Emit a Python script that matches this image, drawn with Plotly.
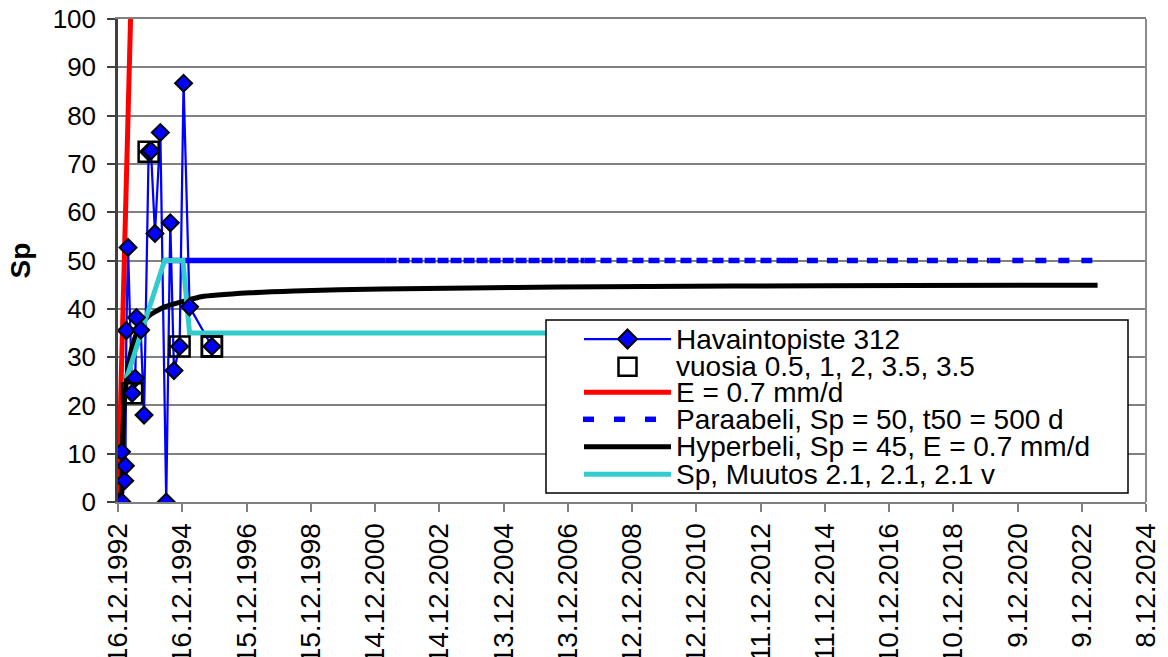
import plotly.graph_objects as go
import pandas as pd

# ---------------- data ----------------
BASE = "1992-12-16"

tick_days = [0, 730, 1460, 2190, 2920, 3650, 4380, 5110, 5840, 6570, 7300, 8030, 8760, 9490, 10220, 10950, 11680]
tick_labels = ["16.12.1992", "16.12.1994", "15.12.1996", "15.12.1998", "14.12.2000", "14.12.2002",
               "13.12.2004", "13.12.2006", "12.12.2008", "12.12.2010", "11.12.2012", "11.12.2014",
               "10.12.2016", "10.12.2018", "9.12.2020", "9.12.2022", "8.12.2024"]

# Havaintopiste 312 (days since 16.12.1992, Sp)
obs_days = [0, 40, 45, 76, 84, 95, 114, 160, 196, 209, 258, 296, 348, 375, 420, 481, 548, 594, 636, 700, 745, 813, 1067]
obs_vals = [0, 10.4, 0, 4.4, 7.5, 35.5, 52.7, 22.5, 25.6, 38.2, 35.6, 18.0, 72.5, 72.7, 55.6, 76.5, 0, 57.8, 27.2, 32.2, 86.7, 40.4, 32.2]

# vuosia 0.5, 1, 2, 3.5, 3.5
sq_days = [160, 348, 700, 1067, 1067]
sq_vals = [22.5, 72.5, 32.2, 32.2, 32.2]

# E = 0.7 mm/d
red_days = [0, 150]
red_vals = [0, 105]

# Paraabeli, Sp = 50, t50 = 500 d
par_days = [529, 3040, 5300, 7600, 9900, 11130]
par_vals = [50, 50, 50, 50, 50, 50]

# Hyperbeli, Sp = 45, E = 0.7 mm/d
hyp_days = [38, 50, 69, 107, 152, 228, 341, 529, 795, 946, 1500, 2000, 3000, 4000, 5000, 7000, 9000, 11130]
hyp_vals = [0, 11.4, 19.7, 26.7, 31.5, 35.6, 38.4, 40.4, 41.8, 42.5, 43.3, 43.7, 44.1, 44.3, 44.5, 44.7, 44.8, 44.9]

# Sp, Muutos 2.1, 2.1, 2.1 v
cy_days = [95, 529, 738, 813, 11130]
cy_vals = [25.5, 50, 50, 35, 35]

legend_labels = ["Havaintopiste 312", "vuosia 0.5, 1, 2, 3.5, 3.5", "E = 0.7 mm/d",
                 "Paraabeli, Sp = 50, t50 = 500 d", "Hyperbeli, Sp = 45, E = 0.7 mm/d",
                 "Sp, Muutos 2.1, 2.1, 2.1 v"]

# ---------------- helpers ----------------
base = pd.Timestamp(BASE)


def to_dates(days):
    return [base + pd.Timedelta(days=d) for d in days]


BLUE = "#0000FF"
RED = "#FF0000"
CYAN = "#33CCCC"
FONT = "Liberation Sans, Arial, sans-serif"

W, H = 1168, 657
ML, MR, MT, MB = 118, 22, 19, 155
PW, PH = W - ML - MR, H - MT - MB


def px(x, y):
    return (x - ML) / PW, (H - MB - y) / PH


fig = go.Figure()

# observation line (under everything)
fig.add_trace(go.Scatter(x=to_dates(obs_days), y=obs_vals, mode="lines",
                         line=dict(color=BLUE, width=2.25), hoverinfo="skip"))
# red line
fig.add_trace(go.Scatter(x=to_dates(red_days), y=red_vals, mode="lines",
                         line=dict(color=RED, width=5)))
# parabola: dense part renders solid, sparse parts dashed with growing gaps
par_styles = ["solid", "11px,2px", "11px,5px", "11px,9px", "11px,12px"]
for i, st in enumerate(par_styles):
    fig.add_trace(go.Scatter(x=to_dates(par_days[i:i + 2]), y=par_vals[i:i + 2], mode="lines",
                             line=dict(color=BLUE, width=5.5, dash=st)))
# hyperbola
fig.add_trace(go.Scatter(x=to_dates(hyp_days), y=hyp_vals, mode="lines",
                         line=dict(color="black", width=5, shape="spline", smoothing=0.6)))
# cyan
fig.add_trace(go.Scatter(x=to_dates(cy_days), y=cy_vals, mode="lines",
                         line=dict(color=CYAN, width=5)))
# observation markers
fig.add_trace(go.Scatter(x=to_dates(obs_days), y=obs_vals, mode="markers",
                         marker=dict(symbol="diamond", size=13, color=BLUE,
                                     line=dict(color="black", width=2))))
# squares
fig.add_trace(go.Scatter(x=to_dates(sq_days), y=sq_vals, mode="markers",
                         marker=dict(symbol="square-open", size=20, color="black",
                                     line=dict(color="black", width=2.5))))

shapes = []
# black line at 30
shapes.append(dict(type="line", xref="paper", x0=0, x1=1, yref="y", y0=30, y1=30,
                   line=dict(color="black", width=1.5), layer="between"))
# right border
shapes.append(dict(type="line", xref="paper", x0=1, x1=1, yref="paper", y0=0, y1=1,
                   line=dict(color="#8C8C8C", width=2), layer="above"))

# ---------------- manual legend ----------------
bx0, by0 = px(546, 320)
bx1, by1 = px(1128, 493)
shapes.append(dict(type="rect", xref="paper", yref="paper", x0=bx0, x1=bx1, y0=by1, y1=by0,
                   line=dict(color="black", width=1.5), fillcolor="white", layer="above"))
rows = [339, 366.7, 392.3, 419.3, 446.7, 474.3]
lx0, lx1, mx = 584, 671, 627.5


def hline(xa, xb, y, color, width):
    a = px(xa, y)
    b = px(xb, y)
    return dict(type="line", xref="paper", yref="paper", x0=a[0], x1=b[0], y0=a[1], y1=b[1],
                line=dict(color=color, width=width), layer="above")


shapes.append(hline(lx0, lx1, rows[0], BLUE, 2.25))
# diamond sample
d = 9.5
pts = [px(mx, rows[0] - d), px(mx + d, rows[0]), px(mx, rows[0] + d), px(mx - d, rows[0])]
path = "M" + " L".join(f"{p[0]:.5f},{p[1]:.5f}" for p in pts) + " Z"
shapes.append(dict(type="path", xref="paper", yref="paper", path=path, fillcolor=BLUE,
                   line=dict(color="black", width=2), layer="above"))
# square sample
s0 = px(mx - 9, rows[1] - 9)
s1 = px(mx + 9, rows[1] + 9)
shapes.append(dict(type="rect", xref="paper", yref="paper", x0=s0[0], x1=s1[0], y0=s1[1], y1=s0[1],
                   line=dict(color="black", width=2.5), fillcolor="rgba(0,0,0,0)", layer="above"))
shapes.append(hline(lx0, lx1, rows[2], RED, 5))
for a in (583, 614, 645):
    shapes.append(hline(a, a + 11, rows[3], BLUE, 5.5))
shapes.append(hline(lx0, lx1, rows[4], "black", 5))
shapes.append(hline(lx0, lx1, rows[5], CYAN, 5))

annotations = []
for r, lab in zip(rows, legend_labels):
    ax, ay = px(675, r)
    annotations.append(dict(xref="paper", yref="paper", x=ax, y=ay, xanchor="left", yanchor="middle",
                            text=lab, showarrow=False, borderpad=0,
                            font=dict(size=28, color="black", family=FONT)))

fig.update_layout(
    width=W, height=H,
    margin=dict(l=ML, r=MR, t=MT, b=MB, pad=0, autoexpand=False),
    plot_bgcolor="white", paper_bgcolor="white",
    showlegend=False,
    font=dict(family=FONT, color="black"),
    shapes=shapes,
    annotations=annotations,
    xaxis=dict(type="date", range=to_dates([tick_days[0], tick_days[-1]]), automargin=False,
               tickvals=to_dates(tick_days), ticktext=tick_labels, tickangle=-90,
               ticks="outside", ticklen=8, tickwidth=1.5, tickcolor="#808080",
               showline=True, linecolor="#808080", linewidth=2, mirror=True,
               showgrid=False, zeroline=False, tickfont=dict(size=28, color="black")),
    yaxis=dict(range=[0, 100], tick0=0, dtick=10, automargin=False,
               ticks="outside", ticklen=8, tickwidth=1.5, tickcolor="#404040",
               showline=True, linecolor="#404040", linewidth=2.5, ticklabelstandoff=6,
               showgrid=True, gridcolor="#808080", gridwidth=1.5, zeroline=False,
               tickfont=dict(size=26, color="black"),
               title=dict(text="<b>Sp</b>", font=dict(size=28, color="black"), standoff=14)),
)

fig.write_html("out.html", config={"displayModeBar": False},
               post_script="document.body.style.margin='0';document.body.style.overflow='hidden';")
